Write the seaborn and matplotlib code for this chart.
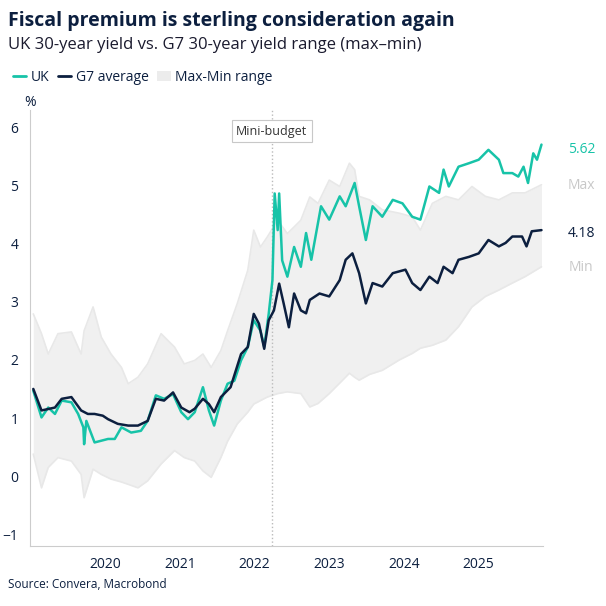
import numpy as np
import matplotlib
matplotlib.use("Agg")
import matplotlib.pyplot as plt
import seaborn as sns
from matplotlib.lines import Line2D
from matplotlib.patches import Patch

# UK 30-year yield (decimal year, %)
uk_years = [2019.54, 2019.65, 2019.74, 2019.83, 2019.92, 2020.05, 2020.14, 2020.21, 2020.22, 2020.25,
            2020.36, 2020.54, 2020.63, 2020.72, 2020.85, 2020.98, 2021.07, 2021.18, 2021.29, 2021.41,
            2021.52, 2021.61, 2021.70, 2021.81, 2021.89, 2021.96, 2022.05, 2022.14, 2022.23, 2022.32,
            2022.41, 2022.49, 2022.58, 2022.63, 2022.69, 2022.74, 2022.77, 2022.81, 2022.83, 2022.87,
            2022.94, 2023.03, 2023.12, 2023.19, 2023.26, 2023.39, 2023.50, 2023.64, 2023.72, 2023.84,
            2023.90, 2023.99, 2024.08, 2024.21, 2024.35, 2024.48, 2024.61, 2024.72, 2024.84, 2024.97,
            2025.03, 2025.10, 2025.23, 2025.37, 2025.50, 2025.63, 2025.77, 2025.83, 2025.95, 2026.03,
            2026.10, 2026.16, 2026.23, 2026.28, 2026.34]
uk_vals = [1.47, 1.01, 1.18, 1.07, 1.30, 1.27, 1.07, 0.84, 0.55, 0.95,
           0.58, 0.64, 0.64, 0.84, 0.75, 0.78, 0.95, 1.39, 1.33, 1.41,
           1.10, 0.98, 1.10, 1.53, 1.13, 0.87, 1.30, 1.59, 1.64, 1.99,
           2.22, 2.68, 2.50, 2.22, 2.79, 3.37, 4.86, 4.23, 4.86, 3.71,
           3.43, 3.94, 3.60, 4.18, 3.72, 4.64, 4.41, 4.81, 4.64, 5.04,
           4.64, 4.06, 4.64, 4.46, 4.75, 4.69, 4.46, 4.41, 4.98, 4.87,
           5.27, 4.98, 5.32, 5.38, 5.44, 5.61, 5.44, 5.21, 5.21, 5.15,
           5.32, 5.04, 5.55, 5.44, 5.70]

# G7 average 30-year yield
g7_years = [2019.54, 2019.65, 2019.83, 2019.92, 2020.05, 2020.18, 2020.27, 2020.36, 2020.47, 2020.54,
            2020.67, 2020.81, 2020.94, 2021.07, 2021.18, 2021.29, 2021.41, 2021.52, 2021.63, 2021.70,
            2021.81, 2021.89, 2021.96, 2022.05, 2022.18, 2022.32, 2022.41, 2022.49, 2022.56, 2022.63,
            2022.69, 2022.76, 2022.83, 2022.89, 2022.96, 2023.03, 2023.12, 2023.19, 2023.24, 2023.37,
            2023.50, 2023.64, 2023.72, 2023.81, 2023.90, 2023.99, 2024.08, 2024.21, 2024.35, 2024.52,
            2024.61, 2024.72, 2024.84, 2024.95, 2025.03, 2025.15, 2025.23, 2025.37, 2025.50, 2025.63,
            2025.77, 2025.86, 2025.95, 2026.08, 2026.14, 2026.21, 2026.34]
g7_vals = [1.50, 1.13, 1.18, 1.33, 1.36, 1.13, 1.07, 1.07, 1.04, 0.98,
           0.90, 0.87, 0.87, 0.95, 1.33, 1.30, 1.44, 1.18, 1.10, 1.16,
           1.33, 1.24, 1.10, 1.36, 1.53, 2.10, 2.22, 2.79, 2.62, 2.19,
           2.68, 2.85, 3.31, 2.97, 2.56, 3.14, 2.85, 2.80, 3.03, 3.14,
           3.09, 3.37, 3.72, 3.83, 3.49, 2.97, 3.32, 3.26, 3.49, 3.55,
           3.32, 3.20, 3.43, 3.32, 3.60, 3.49, 3.72, 3.77, 3.83, 4.06,
           3.95, 4.01, 4.12, 4.12, 3.95, 4.21, 4.23]

# Max-Min range across G7
band_years = [2019.54, 2019.65, 2019.74, 2019.87, 2020.05, 2020.18, 2020.22, 2020.34, 2020.45, 2020.58,
              2020.72, 2020.81, 2020.94, 2021.07, 2021.25, 2021.43, 2021.56, 2021.70, 2021.81, 2021.92,
              2022.05, 2022.14, 2022.27, 2022.41, 2022.49, 2022.58, 2022.67, 2022.81, 2022.94, 2023.12,
              2023.24, 2023.35, 2023.50, 2023.64, 2023.77, 2023.84, 2023.90, 2024.04, 2024.21, 2024.44,
              2024.61, 2024.72, 2024.88, 2025.06, 2025.23, 2025.41, 2025.59, 2025.77, 2025.95, 2026.12,
              2026.34]
band_max = [2.79, 2.45, 2.10, 2.45, 2.48, 2.10, 2.50, 2.91, 2.39, 2.10,
            1.87, 1.59, 1.70, 1.93, 2.45, 2.22, 1.93, 1.99, 2.10, 1.87,
            2.16, 2.50, 2.97, 3.54, 4.23, 3.94, 4.11, 4.40, 4.17, 4.40,
            4.80, 4.69, 5.09, 4.98, 5.38, 5.27, 4.81, 4.75, 4.58, 4.52,
            4.46, 4.23, 4.69, 4.81, 4.75, 4.98, 4.81, 4.75, 4.87, 4.87,
            5.01]
band_min = [0.38, -0.20, 0.15, 0.32, 0.26, 0.03, -0.37, 0.12, 0.03, -0.05,
            -0.10, -0.14, -0.20, -0.08, 0.21, 0.44, 0.32, 0.26, 0.09, -0.02,
            0.32, 0.60, 0.90, 1.10, 1.24, 1.30, 1.36, 1.42, 1.45, 1.42,
            1.19, 1.25, 1.42, 1.60, 1.77, 1.70, 1.65, 1.75, 1.82, 2.00,
            2.11, 2.20, 2.25, 2.34, 2.57, 2.91, 3.09, 3.20, 3.32, 3.43,
            3.60]

year_labels = ["2020", "2021", "2022", "2023", "2024", "2025"]
mini_budget = 2022.73

TEAL = "#17c3a8"
NAVY = "#0c1f3f"
GREY_TXT = "#c8c8c8"

sns.set_style("white")
plt.rcParams["font.family"] = ["Open Sans", "DejaVu Sans"]

fig = plt.figure(figsize=(6.06, 6.06), dpi=100)
ax = fig.add_axes([0.05, 0.099, 0.846, 0.72])

ax.fill_between(band_years, band_min, band_max, color="#f0f0f0", lw=0, zorder=1)
ax.plot(band_years, band_max, color="#e8e8e8", lw=1.2, zorder=1)
ax.plot(band_years, band_min, color="#e8e8e8", lw=1.2, zorder=1)
sns.lineplot(x=uk_years, y=uk_vals, color=TEAL, lw=1.8, ax=ax, zorder=3)
sns.lineplot(x=g7_years, y=g7_vals, color=NAVY, lw=1.8, ax=ax, zorder=4)

ax.axvline(mini_budget, color="#bbbbbb", ls=":", lw=1, zorder=2)
ax.text(mini_budget, 5.93, "Mini-budget", ha="center", va="center", fontsize=9, color="#333333",
        bbox=dict(boxstyle="square,pad=0.35", fc="white", ec="#c8c8c8", lw=0.8), zorder=5)

ax.set_xlim(2019.5, 2026.36)
ax.set_ylim(-1.2, 6.3)
ax.set_yticks(range(-1, 7))
ax.set_xticks(range(2020, 2027))
ax.set_xticklabels([])
ax.set_xticks([int(y) + 0.5 for y in year_labels], minor=True)
ax.set_xticklabels(year_labels, minor=True)
ax.tick_params(axis="x", which="minor", length=0, labelsize=10, colors=NAVY, pad=8)
ax.tick_params(axis="x", which="major", length=5, color="#999999", direction="out")
ax.tick_params(axis="y", length=5, color="#999999", labelsize=10, labelcolor=NAVY, direction="out")
for s in ["top", "right"]:
    ax.spines[s].set_visible(False)
for s in ["left", "bottom"]:
    ax.spines[s].set_color("#cccccc")
ax.set_xlabel("")
ax.set_ylabel("")
ax.text(0.0, 1.0, "%", transform=ax.transAxes, ha="center", va="bottom", fontsize=10, color=NAVY)

lbl = dict(xycoords=("axes fraction", "data"), ha="center", va="center", fontsize=10, annotation_clip=False)
ax.annotate("5.62", (1.075, 5.62), color=TEAL, **lbl)
ax.annotate("Max", (1.075, 5.0), color=GREY_TXT, **lbl)
ax.annotate("4.18", (1.075, 4.18), color=NAVY, **lbl)
ax.annotate("Min", (1.075, 3.58), color=GREY_TXT, **lbl)

fig.text(0.013, 0.965, "Fiscal premium is sterling consideration again", fontsize=14, fontweight="bold",
         color=NAVY, va="center")
fig.text(0.013, 0.925, "UK 30-year yield vs. G7 30-year yield range (max\u2013min)", fontsize=12,
         color="#1a1a2e", va="center")
handles = [Line2D([], [], color=TEAL, lw=2), Line2D([], [], color=NAVY, lw=2),
           Patch(facecolor="#ececec", edgecolor="none")]
fig.legend(handles, ["UK", "G7 average", "Max-Min range"], loc="center left", bbox_to_anchor=(0.0, 0.872),
           ncol=3, frameon=False, fontsize=10, handlelength=1.0, handletextpad=0.3, columnspacing=0.6,
           labelcolor=NAVY)
fig.text(0.013, 0.035, "Source: Convera, Macrobond", fontsize=8.5, color=NAVY, va="center")

fig.savefig("out.png", dpi=100, facecolor="white")
